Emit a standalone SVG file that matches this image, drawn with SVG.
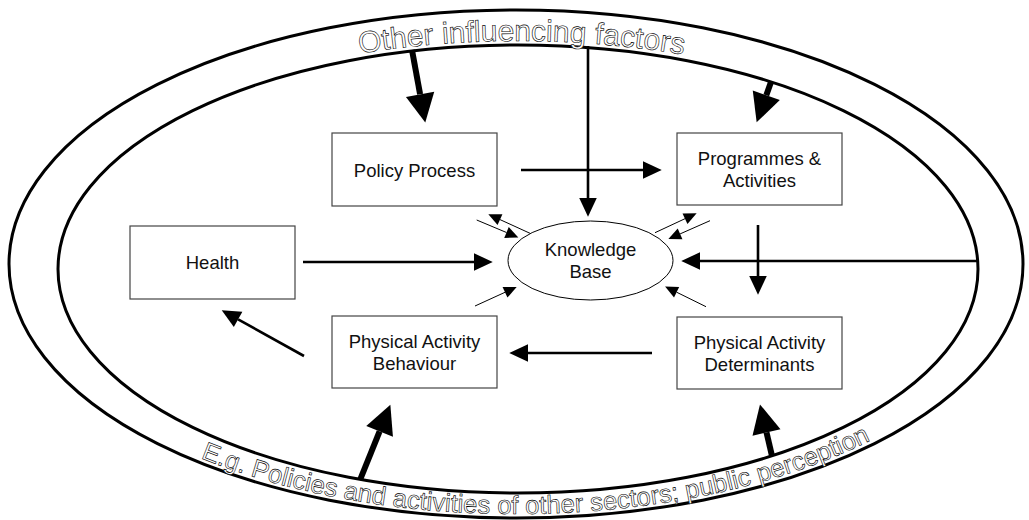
<svg xmlns="http://www.w3.org/2000/svg" xmlns:xlink="http://www.w3.org/1999/xlink" width="1029" height="520" viewBox="0 0 1029 520">
<style>
.band{fill:none;stroke:#000;stroke-width:3}
.box{fill:#fff;stroke:#444;stroke-width:1.2}
.lbl{font-family:"Liberation Sans",Arial,sans-serif;font-size:18.5px;fill:#111;text-anchor:middle}
.outl{font-family:"Liberation Sans",Arial,sans-serif;fill:#fff;stroke:#000;stroke-width:0.6;text-anchor:middle}
.med{fill:none;stroke:#000;stroke-width:2.6;marker-end:url(#mMed)}
.thick{fill:none;stroke:#000;stroke-width:6;marker-end:url(#mThick)}
.thin{fill:none;stroke:#000;stroke-width:1;marker-end:url(#mThin)}
</style>
<defs>
<marker id="mMed" markerUnits="userSpaceOnUse" markerWidth="20" markerHeight="20" viewBox="0 -8 16 16" refX="0" refY="0" orient="auto" overflow="visible"><path d="M0,-7 L15,0 L0,7 z" fill="#000"/></marker>
<marker id="mThick" markerUnits="userSpaceOnUse" markerWidth="30" markerHeight="30" viewBox="0 -12 24 24" refX="0" refY="0" orient="auto" overflow="visible"><path d="M0,-11.5 L23,0 L0,11.5 z" fill="#000"/></marker>
<marker id="mThin" markerUnits="userSpaceOnUse" markerWidth="14" markerHeight="14" viewBox="0 -6 12 12" refX="0" refY="0" orient="auto" overflow="visible"><path d="M0,-5 L11,0 L0,5 z" fill="#000"/></marker>
<path id="topArc" d="M38,265 A480,224 0 0 1 998,265"/>
<path id="botArc" d="M16,264 A500,250 0 0 0 1016,264"/>
</defs>
<g id="bands">
<ellipse class="band" cx="516" cy="264" rx="507" ry="254"/>
<ellipse class="band" cx="518" cy="269" rx="460" ry="224"/>
</g>
<g id="band-labels">
<text class="outl" font-size="30"><textPath xlink:href="#topArc" href="#topArc" startOffset="575">Other influencing factors</textPath></text>
<text class="outl" font-size="25.6"><textPath xlink:href="#botArc" href="#botArc" startOffset="627">E.g. Policies and activities of other sectors; public perception</textPath></text>
</g>
<g id="connectors">
<path class="med" d="M521,170 L643,170"/>
<path class="med" d="M588,46 L588,198"/>
<path class="med" d="M758,225 L758,276"/>
<path class="med" d="M978,261 L700,261"/>
<path class="med" d="M303,262 L474,262"/>
<path class="med" d="M652,353 L528,353"/>
<path class="med" d="M304,356 L238.1,319.3"/>
<path class="thick" d="M412,50 L420.1,94.3"/>
<path class="thick" d="M771,82 L766.3,95.2"/>
<path class="thick" d="M360,480 L379.6,431.4"/>
<path class="thick" d="M772,456 L766.5,432.4"/>
<path class="thin" d="M476.7,220 L506.5,232.5"/>
<path class="thin" d="M530,233.3 L500,219.6"/>
<path class="thin" d="M655,232.7 L685,218.7"/>
<path class="thin" d="M710,220.7 L680.1,233.9"/>
<path class="thin" d="M475,306 L505,292.3"/>
<path class="thin" d="M706,306.7 L676.6,292.2"/>
</g>
<g id="policy-process">
<rect class="box" x="332" y="133" width="165" height="73"/>
<text class="lbl" x="414.5" y="176.5">Policy Process</text>
</g>
<g id="programmes-activities">
<rect class="box" x="677" y="133" width="165" height="72"/>
<text class="lbl" x="759.5" y="165">Programmes &amp;</text>
<text class="lbl" x="759.5" y="186.5">Activities</text>
</g>
<g id="health">
<rect class="box" x="130" y="226" width="165" height="73"/>
<text class="lbl" x="212.5" y="269">Health</text>
</g>
<g id="knowledge-base">
<ellipse cx="590.5" cy="260.5" rx="82.5" ry="39.5" fill="#fff" stroke="#000" stroke-width="1"/>
<text class="lbl" x="590.5" y="256">Knowledge</text>
<text class="lbl" x="590.5" y="278">Base</text>
</g>
<g id="pa-behaviour">
<rect class="box" x="332" y="316" width="165" height="72"/>
<text class="lbl" x="414.5" y="348">Physical Activity</text>
<text class="lbl" x="414.5" y="369.5">Behaviour</text>
</g>
<g id="pa-determinants">
<rect class="box" x="677" y="317" width="165" height="72"/>
<text class="lbl" x="759.5" y="349">Physical Activity</text>
<text class="lbl" x="759.5" y="370.5">Determinants</text>
</g>
</svg>
